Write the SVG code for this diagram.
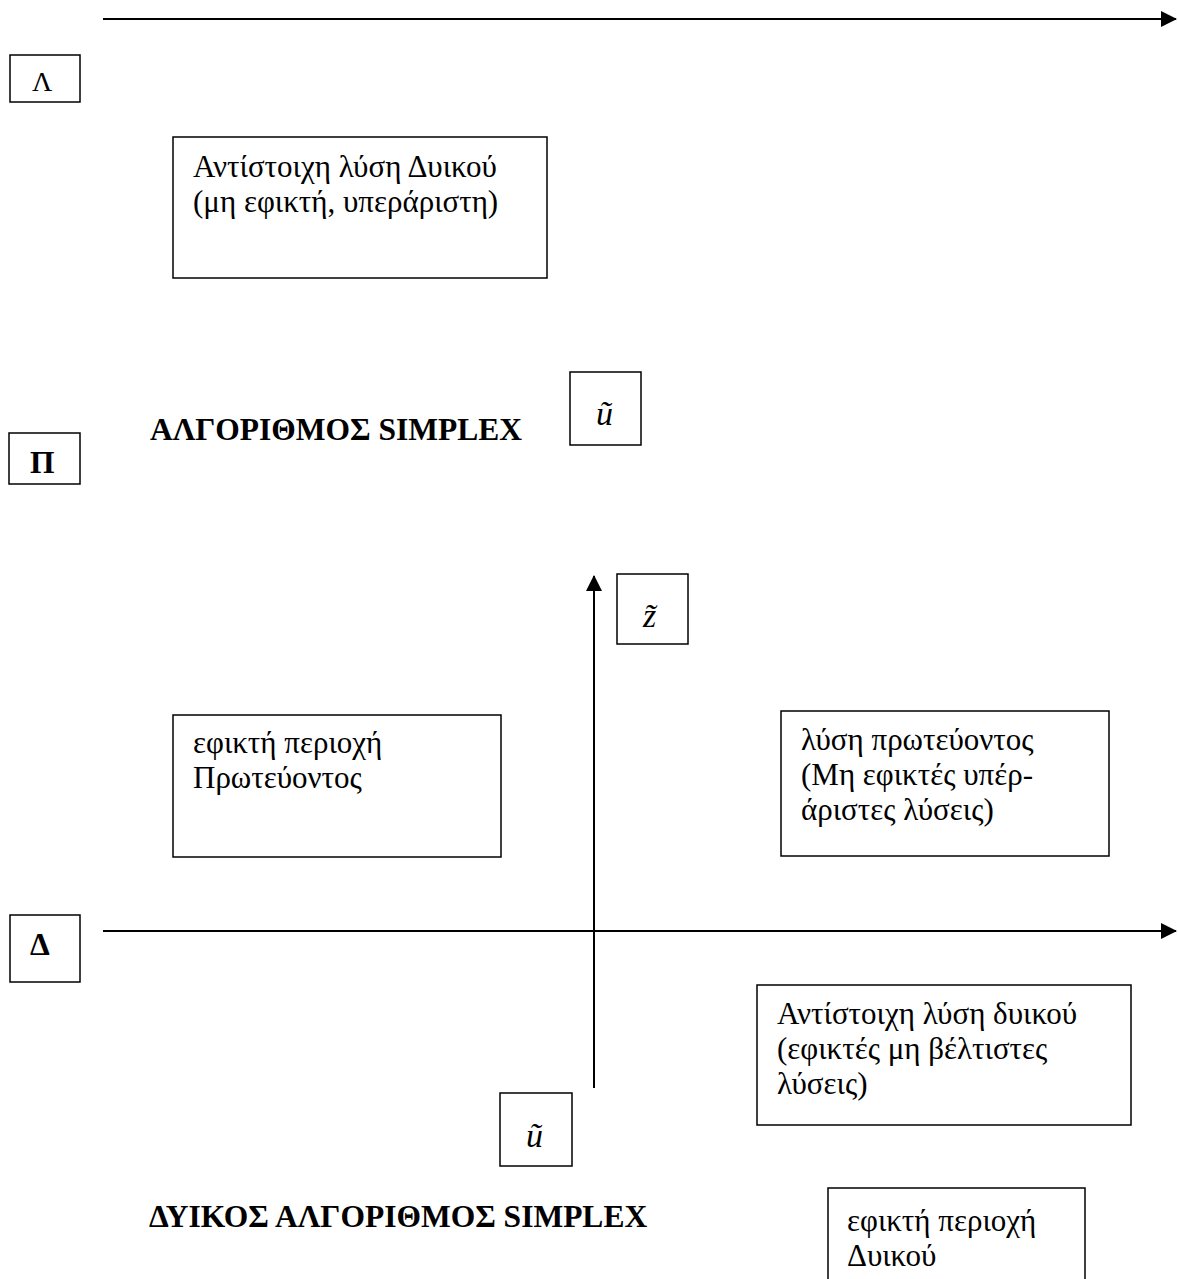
<svg xmlns="http://www.w3.org/2000/svg" width="1178" height="1279" viewBox="0 0 1178 1279">
<style>
.box{fill:#fff;stroke:#000;stroke-width:1.5}
.t{font-family:"Liberation Serif","Times New Roman",serif;font-size:31px;fill:#000}
.b{font-weight:bold;font-size:31.5px}
.var{font-family:"Liberation Serif","Times New Roman",serif;font-size:34px;font-style:italic;fill:#000}
.ax{stroke:#000;stroke-width:2;fill:none}
</style>
<defs>
<marker id="ah" markerWidth="8" markerHeight="8" refX="7.5" refY="4" orient="auto" markerUnits="strokeWidth">
<path d="M0,0 L8,4 L0,8 z" fill="#000"/>
</marker>
</defs>
<rect width="1178" height="1279" fill="#fff"/>
<g id="connectors">
<line class="ax" x1="103" y1="19" x2="1176" y2="19" marker-end="url(#ah)"/>
<line class="ax" x1="103" y1="931" x2="1176" y2="931" marker-end="url(#ah)"/>
<line class="ax" x1="594" y1="1088" x2="594" y2="576" marker-end="url(#ah)"/>
</g>
<g id="node-lambda">
<rect class="box" x="10" y="55" width="70" height="47"/>
<text class="t" x="32" y="91" style="font-size:28px">Λ</text>
</g>
<g id="node-dual-solution-top">
<rect class="box" x="173" y="137" width="374" height="141"/>
<text class="t" x="193" y="177">Αντίστοιχη λύση Δυικού</text>
<text class="t" x="193" y="212">(μη εφικτή, υπεράριστη)</text>
</g>
<g id="node-pi">
<rect class="box" x="9" y="433" width="71" height="51"/>
<text class="t b" x="30" y="473">Π</text>
</g>
<g id="node-simplex-title">
<text class="t b" x="150" y="440">ΑΛΓΟΡΙΘΜΟΣ SIMPLEX</text>
</g>
<g id="node-u-top">
<rect class="box" x="570" y="372" width="71" height="73"/>
<text class="var" x="596" y="425">ũ</text>
</g>
<g id="node-z">
<rect class="box" x="617" y="574" width="71" height="70"/>
<text class="var" x="643" y="627">z̃</text>
</g>
<g id="node-primal-feasible">
<rect class="box" x="173" y="715" width="328" height="142"/>
<text class="t" x="193" y="753">εφικτή περιοχή</text>
<text class="t" x="193" y="788">Πρωτεύοντος</text>
</g>
<g id="node-primal-solution">
<rect class="box" x="781" y="711" width="328" height="145"/>
<text class="t" x="801" y="750">λύση πρωτεύοντος</text>
<text class="t" x="801" y="785">(Μη εφικτές υπέρ-</text>
<text class="t" x="801" y="820">άριστες λύσεις)</text>
</g>
<g id="node-delta">
<rect class="box" x="10" y="915" width="70" height="67"/>
<text class="t b" x="30" y="955">Δ</text>
</g>
<g id="node-dual-solution-bottom">
<rect class="box" x="757" y="985" width="374" height="140"/>
<text class="t" x="777" y="1024">Αντίστοιχη λύση δυικού</text>
<text class="t" x="777" y="1059">(εφικτές μη βέλτιστες</text>
<text class="t" x="777" y="1094">λύσεις)</text>
</g>
<g id="node-u-bottom">
<rect class="box" x="500" y="1093" width="72" height="73"/>
<text class="var" x="526" y="1147">ũ</text>
</g>
<g id="node-dual-simplex-title">
<text class="t b" x="149" y="1227">ΔΥΙΚΟΣ ΑΛΓΟΡΙΘΜΟΣ SIMPLEX</text>
</g>
<g id="node-dual-feasible">
<rect class="box" x="828" y="1188" width="257" height="110"/>
<text class="t" x="847" y="1231">εφικτή περιοχή</text>
<text class="t" x="847" y="1266">Δυικού</text>
</g>
</svg>
